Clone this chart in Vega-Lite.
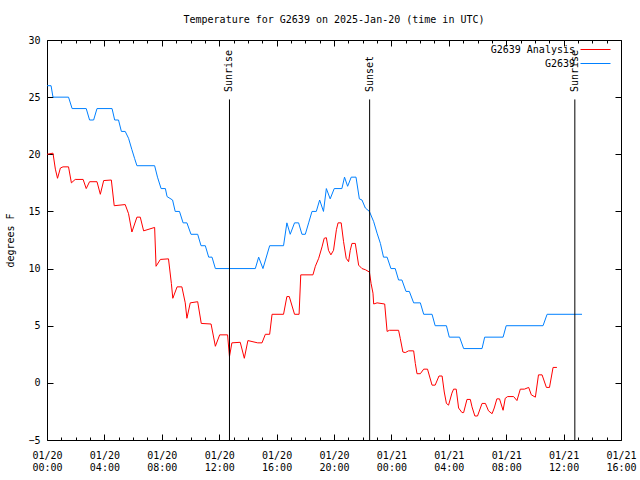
{
  "$schema": "https://vega.github.io/schema/vega-lite/v6.json",
  "width": 574,
  "height": 400,
  "autosize": "none",
  "padding": {"left": 47, "top": 40, "right": 19, "bottom": 40},
  "background": "white",
  "title": {"text": "Temperature for G2639 on 2025-Jan-20 (time in UTC)", "font": "DejaVu Sans Mono", "fontSize": 10, "fontWeight": "normal", "color": "black", "anchor": "middle", "offset": 10},
  "config": {
    "view": {"stroke": "black", "strokeWidth": 1},
    "axis": {"domain": false, "grid": false, "labelFont": "DejaVu Sans Mono", "labelFontSize": 10, "labelColor": "black", "tickColor": "black", "titleFont": "DejaVu Sans Mono", "titleFontSize": 10, "titleFontWeight": "normal", "titleColor": "black"}
  },
  "datasets": {
    "temps": [
      {"time": "2025-01-20T00:00:00Z", "temp": 20.0, "series": "G2639 Analysis"},
      {"time": "2025-01-20T00:25:00Z", "temp": 20.1, "series": "G2639 Analysis"},
      {"time": "2025-01-20T00:35:00Z", "temp": 18.7, "series": "G2639 Analysis"},
      {"time": "2025-01-20T00:44:00Z", "temp": 17.9, "series": "G2639 Analysis"},
      {"time": "2025-01-20T00:56:00Z", "temp": 18.8, "series": "G2639 Analysis"},
      {"time": "2025-01-20T01:07:00Z", "temp": 18.9, "series": "G2639 Analysis"},
      {"time": "2025-01-20T01:30:00Z", "temp": 18.9, "series": "G2639 Analysis"},
      {"time": "2025-01-20T01:42:00Z", "temp": 17.5, "series": "G2639 Analysis"},
      {"time": "2025-01-20T01:58:00Z", "temp": 17.8, "series": "G2639 Analysis"},
      {"time": "2025-01-20T02:31:00Z", "temp": 17.8, "series": "G2639 Analysis"},
      {"time": "2025-01-20T02:44:00Z", "temp": 17.0, "series": "G2639 Analysis"},
      {"time": "2025-01-20T02:58:00Z", "temp": 17.6, "series": "G2639 Analysis"},
      {"time": "2025-01-20T03:29:00Z", "temp": 17.6, "series": "G2639 Analysis"},
      {"time": "2025-01-20T03:43:00Z", "temp": 16.5, "series": "G2639 Analysis"},
      {"time": "2025-01-20T03:57:00Z", "temp": 17.7, "series": "G2639 Analysis"},
      {"time": "2025-01-20T04:29:00Z", "temp": 17.75, "series": "G2639 Analysis"},
      {"time": "2025-01-20T04:41:00Z", "temp": 15.5, "series": "G2639 Analysis"},
      {"time": "2025-01-20T05:27:00Z", "temp": 15.6, "series": "G2639 Analysis"},
      {"time": "2025-01-20T05:41:00Z", "temp": 14.8, "series": "G2639 Analysis"},
      {"time": "2025-01-20T05:55:00Z", "temp": 13.2, "series": "G2639 Analysis"},
      {"time": "2025-01-20T06:16:00Z", "temp": 14.5, "series": "G2639 Analysis"},
      {"time": "2025-01-20T06:30:00Z", "temp": 14.5, "series": "G2639 Analysis"},
      {"time": "2025-01-20T06:44:00Z", "temp": 13.3, "series": "G2639 Analysis"},
      {"time": "2025-01-20T07:30:00Z", "temp": 13.6, "series": "G2639 Analysis"},
      {"time": "2025-01-20T07:36:00Z", "temp": 10.2, "series": "G2639 Analysis"},
      {"time": "2025-01-20T07:54:00Z", "temp": 10.8, "series": "G2639 Analysis"},
      {"time": "2025-01-20T08:28:00Z", "temp": 10.85, "series": "G2639 Analysis"},
      {"time": "2025-01-20T08:40:00Z", "temp": 8.7, "series": "G2639 Analysis"},
      {"time": "2025-01-20T08:46:00Z", "temp": 7.4, "series": "G2639 Analysis"},
      {"time": "2025-01-20T09:04:00Z", "temp": 8.4, "series": "G2639 Analysis"},
      {"time": "2025-01-20T09:24:00Z", "temp": 8.4, "series": "G2639 Analysis"},
      {"time": "2025-01-20T09:38:00Z", "temp": 7.0, "series": "G2639 Analysis"},
      {"time": "2025-01-20T09:45:00Z", "temp": 5.65, "series": "G2639 Analysis"},
      {"time": "2025-01-20T09:59:00Z", "temp": 7.0, "series": "G2639 Analysis"},
      {"time": "2025-01-20T10:30:00Z", "temp": 7.1, "series": "G2639 Analysis"},
      {"time": "2025-01-20T10:45:00Z", "temp": 5.2, "series": "G2639 Analysis"},
      {"time": "2025-01-20T11:26:00Z", "temp": 5.15, "series": "G2639 Analysis"},
      {"time": "2025-01-20T11:44:00Z", "temp": 3.2, "series": "G2639 Analysis"},
      {"time": "2025-01-20T12:02:00Z", "temp": 4.2, "series": "G2639 Analysis"},
      {"time": "2025-01-20T12:35:00Z", "temp": 4.2, "series": "G2639 Analysis"},
      {"time": "2025-01-20T12:43:00Z", "temp": 2.3, "series": "G2639 Analysis"},
      {"time": "2025-01-20T12:53:00Z", "temp": 3.5, "series": "G2639 Analysis"},
      {"time": "2025-01-20T13:28:00Z", "temp": 3.55, "series": "G2639 Analysis"},
      {"time": "2025-01-20T13:45:00Z", "temp": 2.15, "series": "G2639 Analysis"},
      {"time": "2025-01-20T14:00:00Z", "temp": 3.7, "series": "G2639 Analysis"},
      {"time": "2025-01-20T14:41:00Z", "temp": 3.5, "series": "G2639 Analysis"},
      {"time": "2025-01-20T14:59:00Z", "temp": 3.5, "series": "G2639 Analysis"},
      {"time": "2025-01-20T15:13:00Z", "temp": 4.25, "series": "G2639 Analysis"},
      {"time": "2025-01-20T15:31:00Z", "temp": 4.25, "series": "G2639 Analysis"},
      {"time": "2025-01-20T15:41:00Z", "temp": 6.0, "series": "G2639 Analysis"},
      {"time": "2025-01-20T16:29:00Z", "temp": 6.0, "series": "G2639 Analysis"},
      {"time": "2025-01-20T16:43:00Z", "temp": 7.55, "series": "G2639 Analysis"},
      {"time": "2025-01-20T16:53:00Z", "temp": 7.55, "series": "G2639 Analysis"},
      {"time": "2025-01-20T17:15:00Z", "temp": 6.0, "series": "G2639 Analysis"},
      {"time": "2025-01-20T17:34:00Z", "temp": 6.0, "series": "G2639 Analysis"},
      {"time": "2025-01-20T17:41:00Z", "temp": 9.45, "series": "G2639 Analysis"},
      {"time": "2025-01-20T18:32:00Z", "temp": 9.45, "series": "G2639 Analysis"},
      {"time": "2025-01-20T18:42:00Z", "temp": 10.2, "series": "G2639 Analysis"},
      {"time": "2025-01-20T18:56:00Z", "temp": 10.9, "series": "G2639 Analysis"},
      {"time": "2025-01-20T19:10:00Z", "temp": 11.9, "series": "G2639 Analysis"},
      {"time": "2025-01-20T19:19:00Z", "temp": 12.65, "series": "G2639 Analysis"},
      {"time": "2025-01-20T19:28:00Z", "temp": 12.7, "series": "G2639 Analysis"},
      {"time": "2025-01-20T19:37:00Z", "temp": 11.6, "series": "G2639 Analysis"},
      {"time": "2025-01-20T19:47:00Z", "temp": 11.2, "series": "G2639 Analysis"},
      {"time": "2025-01-20T19:58:00Z", "temp": 11.6, "series": "G2639 Analysis"},
      {"time": "2025-01-20T20:10:00Z", "temp": 13.4, "series": "G2639 Analysis"},
      {"time": "2025-01-20T20:17:00Z", "temp": 14.0, "series": "G2639 Analysis"},
      {"time": "2025-01-20T20:30:00Z", "temp": 14.0, "series": "G2639 Analysis"},
      {"time": "2025-01-20T20:40:00Z", "temp": 12.35, "series": "G2639 Analysis"},
      {"time": "2025-01-20T20:51:00Z", "temp": 10.9, "series": "G2639 Analysis"},
      {"time": "2025-01-20T21:01:00Z", "temp": 10.6, "series": "G2639 Analysis"},
      {"time": "2025-01-20T21:08:00Z", "temp": 11.6, "series": "G2639 Analysis"},
      {"time": "2025-01-20T21:15:00Z", "temp": 12.2, "series": "G2639 Analysis"},
      {"time": "2025-01-20T21:29:00Z", "temp": 12.2, "series": "G2639 Analysis"},
      {"time": "2025-01-20T21:43:00Z", "temp": 10.3, "series": "G2639 Analysis"},
      {"time": "2025-01-20T21:57:00Z", "temp": 10.0, "series": "G2639 Analysis"},
      {"time": "2025-01-20T22:11:00Z", "temp": 9.9, "series": "G2639 Analysis"},
      {"time": "2025-01-20T22:28:00Z", "temp": 9.7, "series": "G2639 Analysis"},
      {"time": "2025-01-20T22:35:00Z", "temp": 8.7, "series": "G2639 Analysis"},
      {"time": "2025-01-20T22:43:00Z", "temp": 7.85, "series": "G2639 Analysis"},
      {"time": "2025-01-20T22:46:00Z", "temp": 6.9, "series": "G2639 Analysis"},
      {"time": "2025-01-20T23:00:00Z", "temp": 7.0, "series": "G2639 Analysis"},
      {"time": "2025-01-20T23:32:00Z", "temp": 6.9, "series": "G2639 Analysis"},
      {"time": "2025-01-20T23:42:00Z", "temp": 4.5, "series": "G2639 Analysis"},
      {"time": "2025-01-20T23:52:00Z", "temp": 4.6, "series": "G2639 Analysis"},
      {"time": "2025-01-21T00:30:00Z", "temp": 4.6, "series": "G2639 Analysis"},
      {"time": "2025-01-21T00:37:00Z", "temp": 3.9, "series": "G2639 Analysis"},
      {"time": "2025-01-21T00:48:00Z", "temp": 2.7, "series": "G2639 Analysis"},
      {"time": "2025-01-21T00:58:00Z", "temp": 2.65, "series": "G2639 Analysis"},
      {"time": "2025-01-21T01:12:00Z", "temp": 2.8, "series": "G2639 Analysis"},
      {"time": "2025-01-21T01:33:00Z", "temp": 2.8, "series": "G2639 Analysis"},
      {"time": "2025-01-21T01:40:00Z", "temp": 1.7, "series": "G2639 Analysis"},
      {"time": "2025-01-21T01:47:00Z", "temp": 0.8, "series": "G2639 Analysis"},
      {"time": "2025-01-21T02:01:00Z", "temp": 0.8, "series": "G2639 Analysis"},
      {"time": "2025-01-21T02:15:00Z", "temp": 1.2, "series": "G2639 Analysis"},
      {"time": "2025-01-21T02:31:00Z", "temp": 1.2, "series": "G2639 Analysis"},
      {"time": "2025-01-21T02:50:00Z", "temp": -0.2, "series": "G2639 Analysis"},
      {"time": "2025-01-21T03:03:00Z", "temp": -0.2, "series": "G2639 Analysis"},
      {"time": "2025-01-21T03:19:00Z", "temp": 0.6, "series": "G2639 Analysis"},
      {"time": "2025-01-21T03:32:00Z", "temp": 0.6, "series": "G2639 Analysis"},
      {"time": "2025-01-21T03:41:00Z", "temp": -0.8, "series": "G2639 Analysis"},
      {"time": "2025-01-21T03:50:00Z", "temp": -1.8, "series": "G2639 Analysis"},
      {"time": "2025-01-21T03:59:00Z", "temp": -1.95, "series": "G2639 Analysis"},
      {"time": "2025-01-21T04:13:00Z", "temp": -0.9, "series": "G2639 Analysis"},
      {"time": "2025-01-21T04:20:00Z", "temp": -0.55, "series": "G2639 Analysis"},
      {"time": "2025-01-21T04:31:00Z", "temp": -0.55, "series": "G2639 Analysis"},
      {"time": "2025-01-21T04:41:00Z", "temp": -2.2, "series": "G2639 Analysis"},
      {"time": "2025-01-21T04:55:00Z", "temp": -2.6, "series": "G2639 Analysis"},
      {"time": "2025-01-21T05:02:00Z", "temp": -2.6, "series": "G2639 Analysis"},
      {"time": "2025-01-21T05:16:00Z", "temp": -1.45, "series": "G2639 Analysis"},
      {"time": "2025-01-21T05:30:00Z", "temp": -1.45, "series": "G2639 Analysis"},
      {"time": "2025-01-21T05:37:00Z", "temp": -2.1, "series": "G2639 Analysis"},
      {"time": "2025-01-21T05:49:00Z", "temp": -2.9, "series": "G2639 Analysis"},
      {"time": "2025-01-21T06:00:00Z", "temp": -2.9, "series": "G2639 Analysis"},
      {"time": "2025-01-21T06:19:00Z", "temp": -1.8, "series": "G2639 Analysis"},
      {"time": "2025-01-21T06:33:00Z", "temp": -1.8, "series": "G2639 Analysis"},
      {"time": "2025-01-21T06:46:00Z", "temp": -2.45, "series": "G2639 Analysis"},
      {"time": "2025-01-21T07:01:00Z", "temp": -2.7, "series": "G2639 Analysis"},
      {"time": "2025-01-21T07:10:00Z", "temp": -2.2, "series": "G2639 Analysis"},
      {"time": "2025-01-21T07:21:00Z", "temp": -1.4, "series": "G2639 Analysis"},
      {"time": "2025-01-21T07:32:00Z", "temp": -1.4, "series": "G2639 Analysis"},
      {"time": "2025-01-21T07:47:00Z", "temp": -2.4, "series": "G2639 Analysis"},
      {"time": "2025-01-21T07:56:00Z", "temp": -1.35, "series": "G2639 Analysis"},
      {"time": "2025-01-21T08:06:00Z", "temp": -1.2, "series": "G2639 Analysis"},
      {"time": "2025-01-21T08:31:00Z", "temp": -1.2, "series": "G2639 Analysis"},
      {"time": "2025-01-21T08:45:00Z", "temp": -1.55, "series": "G2639 Analysis"},
      {"time": "2025-01-21T08:59:00Z", "temp": -0.55, "series": "G2639 Analysis"},
      {"time": "2025-01-21T09:16:00Z", "temp": -0.55, "series": "G2639 Analysis"},
      {"time": "2025-01-21T09:34:00Z", "temp": -0.4, "series": "G2639 Analysis"},
      {"time": "2025-01-21T09:45:00Z", "temp": -1.05, "series": "G2639 Analysis"},
      {"time": "2025-01-21T10:02:00Z", "temp": -1.25, "series": "G2639 Analysis"},
      {"time": "2025-01-21T10:15:00Z", "temp": 0.7, "series": "G2639 Analysis"},
      {"time": "2025-01-21T10:30:00Z", "temp": 0.7, "series": "G2639 Analysis"},
      {"time": "2025-01-21T10:48:00Z", "temp": -0.4, "series": "G2639 Analysis"},
      {"time": "2025-01-21T11:01:00Z", "temp": -0.4, "series": "G2639 Analysis"},
      {"time": "2025-01-21T11:16:00Z", "temp": 1.35, "series": "G2639 Analysis"},
      {"time": "2025-01-21T11:32:00Z", "temp": 1.35, "series": "G2639 Analysis"},
      {"time": "2025-01-20T00:00:00Z", "temp": 26, "series": "G2639"},
      {"time": "2025-01-20T00:17:00Z", "temp": 26, "series": "G2639"},
      {"time": "2025-01-20T00:25:00Z", "temp": 25, "series": "G2639"},
      {"time": "2025-01-20T01:30:00Z", "temp": 25, "series": "G2639"},
      {"time": "2025-01-20T01:45:00Z", "temp": 24, "series": "G2639"},
      {"time": "2025-01-20T02:44:00Z", "temp": 24, "series": "G2639"},
      {"time": "2025-01-20T02:58:00Z", "temp": 23, "series": "G2639"},
      {"time": "2025-01-20T03:15:00Z", "temp": 23, "series": "G2639"},
      {"time": "2025-01-20T03:29:00Z", "temp": 24, "series": "G2639"},
      {"time": "2025-01-20T04:32:00Z", "temp": 24, "series": "G2639"},
      {"time": "2025-01-20T04:43:00Z", "temp": 23, "series": "G2639"},
      {"time": "2025-01-20T04:59:00Z", "temp": 23, "series": "G2639"},
      {"time": "2025-01-20T05:11:00Z", "temp": 22, "series": "G2639"},
      {"time": "2025-01-20T05:27:00Z", "temp": 22, "series": "G2639"},
      {"time": "2025-01-20T05:41:00Z", "temp": 21.4, "series": "G2639"},
      {"time": "2025-01-20T05:55:00Z", "temp": 20.4, "series": "G2639"},
      {"time": "2025-01-20T06:06:00Z", "temp": 19.65, "series": "G2639"},
      {"time": "2025-01-20T06:16:00Z", "temp": 19, "series": "G2639"},
      {"time": "2025-01-20T07:30:00Z", "temp": 19, "series": "G2639"},
      {"time": "2025-01-20T07:42:00Z", "temp": 18, "series": "G2639"},
      {"time": "2025-01-20T07:57:00Z", "temp": 17, "series": "G2639"},
      {"time": "2025-01-20T08:15:00Z", "temp": 17, "series": "G2639"},
      {"time": "2025-01-20T08:22:00Z", "temp": 16.3, "series": "G2639"},
      {"time": "2025-01-20T08:45:00Z", "temp": 16, "series": "G2639"},
      {"time": "2025-01-20T08:56:00Z", "temp": 15, "series": "G2639"},
      {"time": "2025-01-20T09:14:00Z", "temp": 15, "series": "G2639"},
      {"time": "2025-01-20T09:29:00Z", "temp": 14, "series": "G2639"},
      {"time": "2025-01-20T09:45:00Z", "temp": 14, "series": "G2639"},
      {"time": "2025-01-20T10:02:00Z", "temp": 13, "series": "G2639"},
      {"time": "2025-01-20T10:30:00Z", "temp": 13, "series": "G2639"},
      {"time": "2025-01-20T10:44:00Z", "temp": 12, "series": "G2639"},
      {"time": "2025-01-20T11:02:00Z", "temp": 12, "series": "G2639"},
      {"time": "2025-01-20T11:16:00Z", "temp": 11, "series": "G2639"},
      {"time": "2025-01-20T11:30:00Z", "temp": 11, "series": "G2639"},
      {"time": "2025-01-20T11:44:00Z", "temp": 10, "series": "G2639"},
      {"time": "2025-01-20T14:31:00Z", "temp": 10, "series": "G2639"},
      {"time": "2025-01-20T14:45:00Z", "temp": 11, "series": "G2639"},
      {"time": "2025-01-20T15:03:00Z", "temp": 10, "series": "G2639"},
      {"time": "2025-01-20T15:31:00Z", "temp": 12, "series": "G2639"},
      {"time": "2025-01-20T16:29:00Z", "temp": 12, "series": "G2639"},
      {"time": "2025-01-20T16:43:00Z", "temp": 14, "series": "G2639"},
      {"time": "2025-01-20T16:57:00Z", "temp": 13, "series": "G2639"},
      {"time": "2025-01-20T17:15:00Z", "temp": 14, "series": "G2639"},
      {"time": "2025-01-20T17:32:00Z", "temp": 14, "series": "G2639"},
      {"time": "2025-01-20T17:46:00Z", "temp": 13, "series": "G2639"},
      {"time": "2025-01-20T18:00:00Z", "temp": 13, "series": "G2639"},
      {"time": "2025-01-20T18:14:00Z", "temp": 14, "series": "G2639"},
      {"time": "2025-01-20T18:28:00Z", "temp": 15, "series": "G2639"},
      {"time": "2025-01-20T18:46:00Z", "temp": 15, "series": "G2639"},
      {"time": "2025-01-20T19:00:00Z", "temp": 16, "series": "G2639"},
      {"time": "2025-01-20T19:16:00Z", "temp": 15, "series": "G2639"},
      {"time": "2025-01-20T19:28:00Z", "temp": 17, "series": "G2639"},
      {"time": "2025-01-20T19:44:00Z", "temp": 16.1, "series": "G2639"},
      {"time": "2025-01-20T20:01:00Z", "temp": 17, "series": "G2639"},
      {"time": "2025-01-20T20:33:00Z", "temp": 17, "series": "G2639"},
      {"time": "2025-01-20T20:44:00Z", "temp": 18, "series": "G2639"},
      {"time": "2025-01-20T20:57:00Z", "temp": 17.2, "series": "G2639"},
      {"time": "2025-01-20T21:12:00Z", "temp": 18, "series": "G2639"},
      {"time": "2025-01-20T21:32:00Z", "temp": 18, "series": "G2639"},
      {"time": "2025-01-20T21:46:00Z", "temp": 16.1, "series": "G2639"},
      {"time": "2025-01-20T21:57:00Z", "temp": 16, "series": "G2639"},
      {"time": "2025-01-20T22:11:00Z", "temp": 15.3, "series": "G2639"},
      {"time": "2025-01-20T22:28:00Z", "temp": 15, "series": "G2639"},
      {"time": "2025-01-20T22:46:00Z", "temp": 14.1, "series": "G2639"},
      {"time": "2025-01-20T23:00:00Z", "temp": 13.1, "series": "G2639"},
      {"time": "2025-01-20T23:14:00Z", "temp": 12.2, "series": "G2639"},
      {"time": "2025-01-20T23:27:00Z", "temp": 11, "series": "G2639"},
      {"time": "2025-01-20T23:42:00Z", "temp": 11, "series": "G2639"},
      {"time": "2025-01-20T23:58:00Z", "temp": 10, "series": "G2639"},
      {"time": "2025-01-21T00:16:00Z", "temp": 10, "series": "G2639"},
      {"time": "2025-01-21T00:30:00Z", "temp": 9, "series": "G2639"},
      {"time": "2025-01-21T00:44:00Z", "temp": 9, "series": "G2639"},
      {"time": "2025-01-21T01:01:00Z", "temp": 8, "series": "G2639"},
      {"time": "2025-01-21T01:15:00Z", "temp": 8, "series": "G2639"},
      {"time": "2025-01-21T01:33:00Z", "temp": 7, "series": "G2639"},
      {"time": "2025-01-21T02:01:00Z", "temp": 7, "series": "G2639"},
      {"time": "2025-01-21T02:15:00Z", "temp": 6, "series": "G2639"},
      {"time": "2025-01-21T02:50:00Z", "temp": 6, "series": "G2639"},
      {"time": "2025-01-21T03:03:00Z", "temp": 5, "series": "G2639"},
      {"time": "2025-01-21T03:50:00Z", "temp": 5, "series": "G2639"},
      {"time": "2025-01-21T04:02:00Z", "temp": 4, "series": "G2639"},
      {"time": "2025-01-21T04:45:00Z", "temp": 4, "series": "G2639"},
      {"time": "2025-01-21T05:02:00Z", "temp": 3, "series": "G2639"},
      {"time": "2025-01-21T06:19:00Z", "temp": 3, "series": "G2639"},
      {"time": "2025-01-21T06:30:00Z", "temp": 4, "series": "G2639"},
      {"time": "2025-01-21T07:47:00Z", "temp": 4, "series": "G2639"},
      {"time": "2025-01-21T08:00:00Z", "temp": 5, "series": "G2639"},
      {"time": "2025-01-21T10:34:00Z", "temp": 5, "series": "G2639"},
      {"time": "2025-01-21T10:51:00Z", "temp": 6, "series": "G2639"},
      {"time": "2025-01-21T13:17:00Z", "temp": 6, "series": "G2639"}
    ],
    "sun": [
      {"time": "2025-01-20T12:43:00Z", "event": "Sunrise"},
      {"time": "2025-01-20T22:29:00Z", "event": "Sunset"},
      {"time": "2025-01-21T12:47:00Z", "event": "Sunrise"}
    ]
  },
  "layer": [
    {
      "data": {"name": "temps"},
      "mark": {"type": "line", "strokeWidth": 1},
      "encoding": {
        "x": {
          "field": "time", "type": "temporal",
          "scale": {"type": "utc", "domain": ["2025-01-20T00:00:00Z", "2025-01-21T16:00:00Z"]},
          "axis": {
            "orient": "bottom",
            "title": null,
            "values": ["2025-01-20T00:00:00Z", "2025-01-20T01:00:00Z", "2025-01-20T02:00:00Z", "2025-01-20T03:00:00Z", "2025-01-20T04:00:00Z", "2025-01-20T05:00:00Z", "2025-01-20T06:00:00Z", "2025-01-20T07:00:00Z", "2025-01-20T08:00:00Z", "2025-01-20T09:00:00Z", "2025-01-20T10:00:00Z", "2025-01-20T11:00:00Z", "2025-01-20T12:00:00Z", "2025-01-20T13:00:00Z", "2025-01-20T14:00:00Z", "2025-01-20T15:00:00Z", "2025-01-20T16:00:00Z", "2025-01-20T17:00:00Z", "2025-01-20T18:00:00Z", "2025-01-20T19:00:00Z", "2025-01-20T20:00:00Z", "2025-01-20T21:00:00Z", "2025-01-20T22:00:00Z", "2025-01-20T23:00:00Z", "2025-01-21T00:00:00Z", "2025-01-21T01:00:00Z", "2025-01-21T02:00:00Z", "2025-01-21T03:00:00Z", "2025-01-21T04:00:00Z", "2025-01-21T05:00:00Z", "2025-01-21T06:00:00Z", "2025-01-21T07:00:00Z", "2025-01-21T08:00:00Z", "2025-01-21T09:00:00Z", "2025-01-21T10:00:00Z", "2025-01-21T11:00:00Z", "2025-01-21T12:00:00Z", "2025-01-21T13:00:00Z", "2025-01-21T14:00:00Z", "2025-01-21T15:00:00Z", "2025-01-21T16:00:00Z"],
            "tickSize": -6,
            "tickDash": {"condition": {"test": "utchours(datum.value) % 4 === 0", "value": []}, "value": [3, 3]},
            "labelExpr": "utchours(datum.value) % 4 === 0 ? [utcFormat(datum.value, '%m/%d'), utcFormat(datum.value, '%H:%M')] : ''",
            "labelOverlap": false, "labelFlush": false, "labelPadding": 16
          }
        },
        "y": {
          "field": "temp", "type": "quantitative",
          "scale": {"domain": [-5, 30], "nice": false, "zero": false},
          "axis": {"orient": "left", "title": "degrees F", "values": [-5, 0, 5, 10, 15, 20, 25, 30], "tickSize": -6, "labelPadding": 13, "titlePadding": 12}
        },
        "color": {
          "field": "series", "type": "nominal",
          "scale": {"domain": ["G2639 Analysis", "G2639"], "range": ["#ff0000", "#0080ff"]},
          "legend": {
            "orient": "none", "legendX": 543, "legendY": 4, "title": null, "padding": 0,
            "symbolType": "M-3,0H3", "symbolSize": 100, "symbolStrokeWidth": 1,
            "labelFont": "DejaVu Sans Mono", "labelFontSize": 10, "labelColor": "black",
            "labelAlign": "right", "labelOffset": -26, "rowPadding": 3
          }
        }
      }
    },
    {
      "data": {"name": "sun"},
      "mark": {"type": "rule", "color": "black", "strokeWidth": 1},
      "encoding": {
        "x": {"field": "time", "type": "temporal",
          "axis": {
            "orient": "top", "title": null, "labels": false,
            "values": ["2025-01-20T00:00:00Z", "2025-01-20T01:00:00Z", "2025-01-20T02:00:00Z", "2025-01-20T03:00:00Z", "2025-01-20T04:00:00Z", "2025-01-20T05:00:00Z", "2025-01-20T06:00:00Z", "2025-01-20T07:00:00Z", "2025-01-20T08:00:00Z", "2025-01-20T09:00:00Z", "2025-01-20T10:00:00Z", "2025-01-20T11:00:00Z", "2025-01-20T12:00:00Z", "2025-01-20T13:00:00Z", "2025-01-20T14:00:00Z", "2025-01-20T15:00:00Z", "2025-01-20T16:00:00Z", "2025-01-20T17:00:00Z", "2025-01-20T18:00:00Z", "2025-01-20T19:00:00Z", "2025-01-20T20:00:00Z", "2025-01-20T21:00:00Z", "2025-01-20T22:00:00Z", "2025-01-20T23:00:00Z", "2025-01-21T00:00:00Z", "2025-01-21T01:00:00Z", "2025-01-21T02:00:00Z", "2025-01-21T03:00:00Z", "2025-01-21T04:00:00Z", "2025-01-21T05:00:00Z", "2025-01-21T06:00:00Z", "2025-01-21T07:00:00Z", "2025-01-21T08:00:00Z", "2025-01-21T09:00:00Z", "2025-01-21T10:00:00Z", "2025-01-21T11:00:00Z", "2025-01-21T12:00:00Z", "2025-01-21T13:00:00Z", "2025-01-21T14:00:00Z", "2025-01-21T15:00:00Z", "2025-01-21T16:00:00Z"],
            "tickSize": -6,
            "tickDash": {"condition": {"test": "utchours(datum.value) % 4 === 0", "value": []}, "value": [3, 3]}
          }
        },
        "y": {"datum": 24.8,
          "axis": {"orient": "right", "title": null, "labels": false, "values": [-5, 0, 5, 10, 15, 20, 25, 30], "tickSize": -6}},
        "y2": {"datum": -5}
      }
    },
    {
      "data": {"name": "sun"},
      "mark": {"type": "text", "angle": 270, "align": "left", "baseline": "middle", "font": "DejaVu Sans Mono", "fontSize": 10, "color": "black"},
      "encoding": {
        "x": {"field": "time", "type": "temporal", "axis": null},
        "y": {"datum": 25.45, "axis": null},
        "text": {"field": "event"}
      }
    }
  ],
  "resolve": {"axis": {"x": "independent", "y": "independent"}}
}
